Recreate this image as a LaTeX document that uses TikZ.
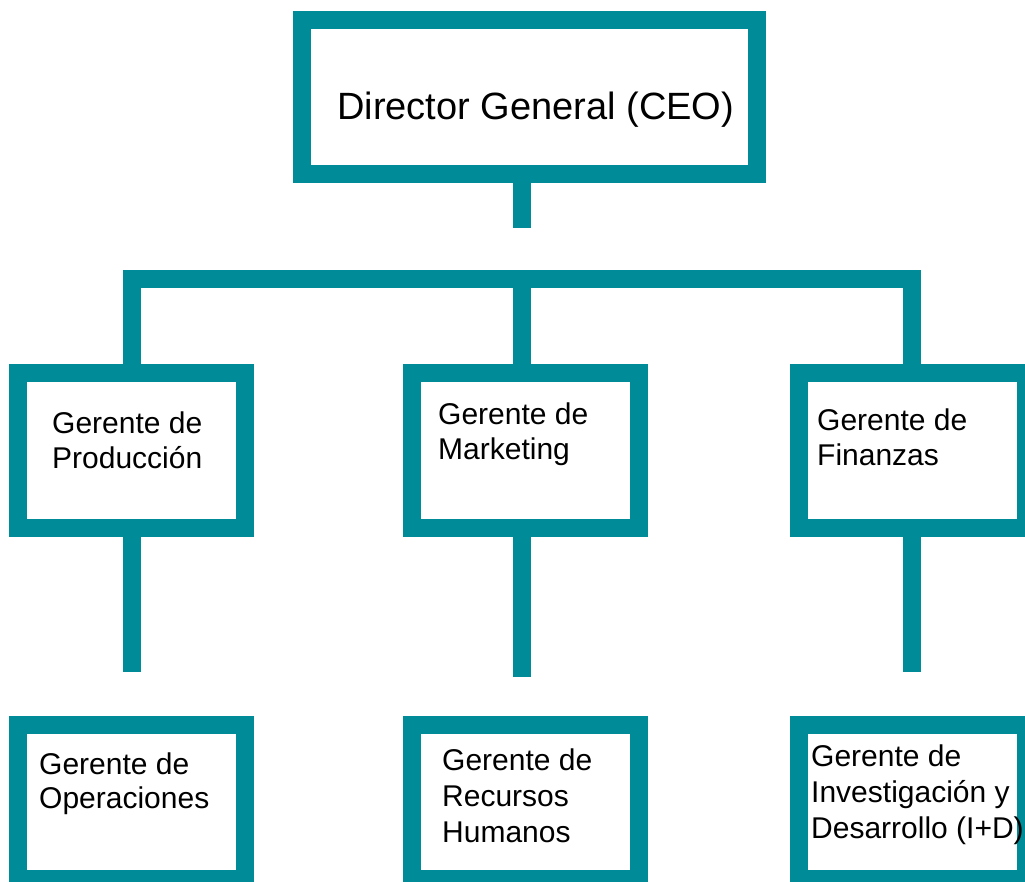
\documentclass[tikz,border=0pt]{standalone}
\usepackage{fontspec}
\setmainfont{Liberation Sans}
\definecolor{orgteal}{HTML}{008B99}
\begin{document}
\begin{tikzpicture}[x=1pt,y=-1pt,
  orgbox/.style={draw=orgteal,line width=18pt,fill=white,rectangle,inner sep=0pt,
    outer sep=0pt,minimum width=227pt,minimum height=155pt},
  orgline/.style={draw=orgteal,line width=18pt,line cap=butt},
  midtxt/.style={anchor=base west,inner sep=0pt,align=left,
    font={\fontsize{30}{35}\selectfont}},
  bottxt/.style={anchor=base west,inner sep=0pt,align=left,
    font={\fontsize{30}{36}\selectfont}}]
\useasboundingbox (0,0) rectangle (1025,881);
\clip (0,0) rectangle (1025,881);
% boxes
\node[orgbox,minimum width=455pt,minimum height=154pt] (ceo) at (529.5,97) {};
\node[orgbox] (prod) at (131.75,450.5) {};
\node[orgbox] (mark) at (525,450.5) {};
\node[orgbox] (fin)  at (912,450.5) {};
\node[orgbox,minimum height=154.5pt] (oper) at (131.75,801.75) {};
\node[orgbox,minimum height=154.5pt] (rh)   at (525,801.75) {};
\node[orgbox,minimum height=154.5pt] (id)   at (912,801.75) {};
% coordinates
\coordinate (ceoEnd) at (521.5,228);
\coordinate (barL) at (123,279);
\coordinate (barR) at (921,279);
\coordinate (dL) at (132,279);
\coordinate (dM) at (521.5,279);
\coordinate (dR) at (912,279);
\coordinate (sL) at (132,672);
\coordinate (sM) at (521.5,677);
\coordinate (sR) at (912,672);
% connectors
\draw[orgline] (ceoEnd |- ceo.south) -- (ceoEnd);
\draw[orgline] (barL) -- (barR);
\draw[orgline] (dL) -- (dL |- prod.north);
\draw[orgline] (dM) -- (dM |- mark.north);
\draw[orgline] (dR) -- (dR |- fin.north);
\draw[orgline] (sL |- prod.south) -- (sL);
\draw[orgline] (sM |- mark.south) -- (sM);
\draw[orgline] (sR |- fin.south) -- (sR);
% texts
\node[anchor=base west,inner sep=0pt,font={\fontsize{38}{44}\selectfont}] (tceo) at (337,119) {Director General (CEO)};
\node[midtxt] (tprod) at (52,468) {Gerente de\\Producción};
\node[midtxt] (tmark) at (438,459) {Gerente de\\Marketing};
\node[midtxt] (tfin)  at (817,465) {Gerente de\\Finanzas};
\node[bottxt,font={\fontsize{30}{34}\selectfont}] (toper) at (39,808) {Gerente de\\Operaciones};
\node[bottxt] (trh)   at (442,842) {Gerente de\\Recursos\\Humanos};
\node[bottxt] (tid)   at (811,838) {Gerente de\\Investigación y\\Desarrollo (I+D)};
\end{tikzpicture}
\end{document}
